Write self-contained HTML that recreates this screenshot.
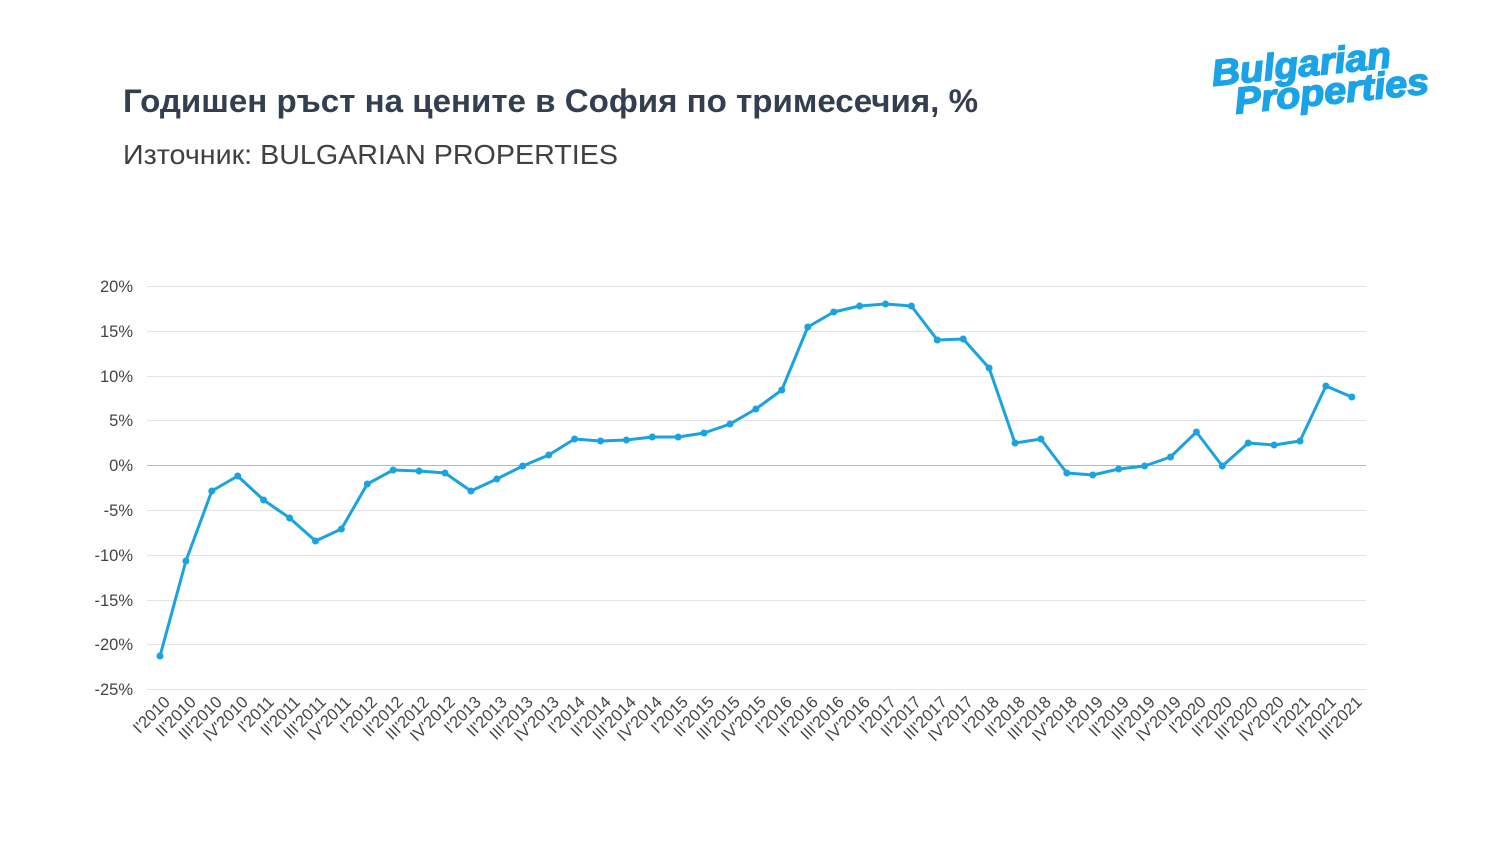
<!DOCTYPE html><html><head><meta charset="utf-8"><style>
body{margin:0;background:#fff;width:1500px;height:844px;overflow:hidden;font-family:"Liberation Sans",sans-serif}
</style></head><body>
<svg width="1500" height="844" xmlns="http://www.w3.org/2000/svg" font-family="Liberation Sans, sans-serif">
<text x="123" y="112" font-size="32" font-weight="bold" fill="#333f4f" textLength="855" lengthAdjust="spacingAndGlyphs">Годишен ръст на цените в София по тримесечия, %</text>
<text x="123" y="164" font-size="28" fill="#404040" textLength="495" lengthAdjust="spacingAndGlyphs">Източник: BULGARIAN PROPERTIES</text>
<g transform="translate(1213,86) rotate(-6)" font-style="italic" font-weight="bold" fill="#1aa3e6" stroke="#1aa3e6" stroke-width="1.5">
<text x="0" y="0" font-size="37" textLength="180" lengthAdjust="spacingAndGlyphs">Bulgarian</text>
<text x="20" y="30" font-size="37" textLength="195" lengthAdjust="spacingAndGlyphs">Properties</text>
</g>
<g stroke="#e3e3e3" stroke-width="1">
<line x1="147" x2="1366" y1="286.5" y2="286.5"/><line x1="147" x2="1366" y1="331.5" y2="331.5"/><line x1="147" x2="1366" y1="376.5" y2="376.5"/><line x1="147" x2="1366" y1="420.5" y2="420.5"/><line x1="147" x2="1366" y1="510.5" y2="510.5"/><line x1="147" x2="1366" y1="555.5" y2="555.5"/><line x1="147" x2="1366" y1="600.5" y2="600.5"/><line x1="147" x2="1366" y1="644.5" y2="644.5"/><line x1="147" x2="1366" y1="689.5" y2="689.5"/>
</g>
<line x1="147" x2="1366" y1="465.5" y2="465.5" stroke="#b8b8b8"/>
<g font-size="16.5" fill="#444" text-anchor="end">
<text x="133" y="292">20%</text><text x="133" y="337">15%</text><text x="133" y="382">10%</text><text x="133" y="426">5%</text><text x="133" y="471">0%</text><text x="133" y="516">-5%</text><text x="133" y="561">-10%</text><text x="133" y="606">-15%</text><text x="133" y="650">-20%</text><text x="133" y="695">-25%</text>
</g>
<polyline fill="none" stroke="#1aa3e0" stroke-width="3" stroke-linejoin="round" points="160,656 185.9,561 211.8,491 237.7,476 263.6,500 289.6,518 315.5,541 341.4,529 367.3,484 393.2,470 419.1,471 445,473 470.9,491 496.8,479 522.7,466 548.7,455 574.6,439 600.5,441 626.4,440 652.3,437 678.2,437 704.1,433 730,424 755.9,409 781.8,390 807.8,327 833.7,312 859.6,306 885.5,304 911.4,306 937.3,340 963.2,339 989.1,368 1015,443 1040.9,439 1066.8,473 1092.7,475 1118.7,469 1144.6,466 1170.5,457 1196.4,432 1222.3,466 1248.2,443 1274.1,445 1300,441 1325.9,386 1351.8,397"/>
<g fill="#1aa3e0">
<circle cx="160" cy="656" r="3.5"/><circle cx="185.9" cy="561" r="3.5"/><circle cx="211.8" cy="491" r="3.5"/><circle cx="237.7" cy="476" r="3.5"/><circle cx="263.6" cy="500" r="3.5"/><circle cx="289.6" cy="518" r="3.5"/><circle cx="315.5" cy="541" r="3.5"/><circle cx="341.4" cy="529" r="3.5"/><circle cx="367.3" cy="484" r="3.5"/><circle cx="393.2" cy="470" r="3.5"/><circle cx="419.1" cy="471" r="3.5"/><circle cx="445" cy="473" r="3.5"/><circle cx="470.9" cy="491" r="3.5"/><circle cx="496.8" cy="479" r="3.5"/><circle cx="522.7" cy="466" r="3.5"/><circle cx="548.7" cy="455" r="3.5"/><circle cx="574.6" cy="439" r="3.5"/><circle cx="600.5" cy="441" r="3.5"/><circle cx="626.4" cy="440" r="3.5"/><circle cx="652.3" cy="437" r="3.5"/><circle cx="678.2" cy="437" r="3.5"/><circle cx="704.1" cy="433" r="3.5"/><circle cx="730" cy="424" r="3.5"/><circle cx="755.9" cy="409" r="3.5"/><circle cx="781.8" cy="390" r="3.5"/><circle cx="807.8" cy="327" r="3.5"/><circle cx="833.7" cy="312" r="3.5"/><circle cx="859.6" cy="306" r="3.5"/><circle cx="885.5" cy="304" r="3.5"/><circle cx="911.4" cy="306" r="3.5"/><circle cx="937.3" cy="340" r="3.5"/><circle cx="963.2" cy="339" r="3.5"/><circle cx="989.1" cy="368" r="3.5"/><circle cx="1015" cy="443" r="3.5"/><circle cx="1040.9" cy="439" r="3.5"/><circle cx="1066.8" cy="473" r="3.5"/><circle cx="1092.7" cy="475" r="3.5"/><circle cx="1118.7" cy="469" r="3.5"/><circle cx="1144.6" cy="466" r="3.5"/><circle cx="1170.5" cy="457" r="3.5"/><circle cx="1196.4" cy="432" r="3.5"/><circle cx="1222.3" cy="466" r="3.5"/><circle cx="1248.2" cy="443" r="3.5"/><circle cx="1274.1" cy="445" r="3.5"/><circle cx="1300" cy="441" r="3.5"/><circle cx="1325.9" cy="386" r="3.5"/><circle cx="1351.8" cy="397" r="3.5"/>
</g>
<g font-size="16.5" fill="#444" text-anchor="end">
<text transform="translate(171,703) rotate(-45)">I'2010</text>
<text transform="translate(197,703) rotate(-45)">II'2010</text>
<text transform="translate(223,703) rotate(-45)">III'2010</text>
<text transform="translate(249,703) rotate(-45)">IV'2010</text>
<text transform="translate(275,703) rotate(-45)">I'2011</text>
<text transform="translate(301,703) rotate(-45)">II'2011</text>
<text transform="translate(327,703) rotate(-45)">III'2011</text>
<text transform="translate(352,703) rotate(-45)">IV'2011</text>
<text transform="translate(378,703) rotate(-45)">I'2012</text>
<text transform="translate(404,703) rotate(-45)">II'2012</text>
<text transform="translate(430,703) rotate(-45)">III'2012</text>
<text transform="translate(456,703) rotate(-45)">IV'2012</text>
<text transform="translate(482,703) rotate(-45)">I'2013</text>
<text transform="translate(508,703) rotate(-45)">II'2013</text>
<text transform="translate(534,703) rotate(-45)">III'2013</text>
<text transform="translate(560,703) rotate(-45)">IV'2013</text>
<text transform="translate(586,703) rotate(-45)">I'2014</text>
<text transform="translate(612,703) rotate(-45)">II'2014</text>
<text transform="translate(637,703) rotate(-45)">III'2014</text>
<text transform="translate(663,703) rotate(-45)">IV'2014</text>
<text transform="translate(689,703) rotate(-45)">I'2015</text>
<text transform="translate(715,703) rotate(-45)">II'2015</text>
<text transform="translate(741,703) rotate(-45)">III'2015</text>
<text transform="translate(767,703) rotate(-45)">IV'2015</text>
<text transform="translate(793,703) rotate(-45)">I'2016</text>
<text transform="translate(819,703) rotate(-45)">II'2016</text>
<text transform="translate(845,703) rotate(-45)">III'2016</text>
<text transform="translate(871,703) rotate(-45)">IV'2016</text>
<text transform="translate(897,703) rotate(-45)">I'2017</text>
<text transform="translate(922,703) rotate(-45)">II'2017</text>
<text transform="translate(948,703) rotate(-45)">III'2017</text>
<text transform="translate(974,703) rotate(-45)">IV'2017</text>
<text transform="translate(1000,703) rotate(-45)">I'2018</text>
<text transform="translate(1026,703) rotate(-45)">II'2018</text>
<text transform="translate(1052,703) rotate(-45)">III'2018</text>
<text transform="translate(1078,703) rotate(-45)">IV'2018</text>
<text transform="translate(1104,703) rotate(-45)">I'2019</text>
<text transform="translate(1130,703) rotate(-45)">II'2019</text>
<text transform="translate(1156,703) rotate(-45)">III'2019</text>
<text transform="translate(1182,703) rotate(-45)">IV'2019</text>
<text transform="translate(1207,703) rotate(-45)">I'2020</text>
<text transform="translate(1233,703) rotate(-45)">II'2020</text>
<text transform="translate(1259,703) rotate(-45)">III'2020</text>
<text transform="translate(1285,703) rotate(-45)">IV'2020</text>
<text transform="translate(1311,703) rotate(-45)">I'2021</text>
<text transform="translate(1337,703) rotate(-45)">II'2021</text>
<text transform="translate(1363,703) rotate(-45)">III'2021</text>
</g>
</svg>
</body></html>
